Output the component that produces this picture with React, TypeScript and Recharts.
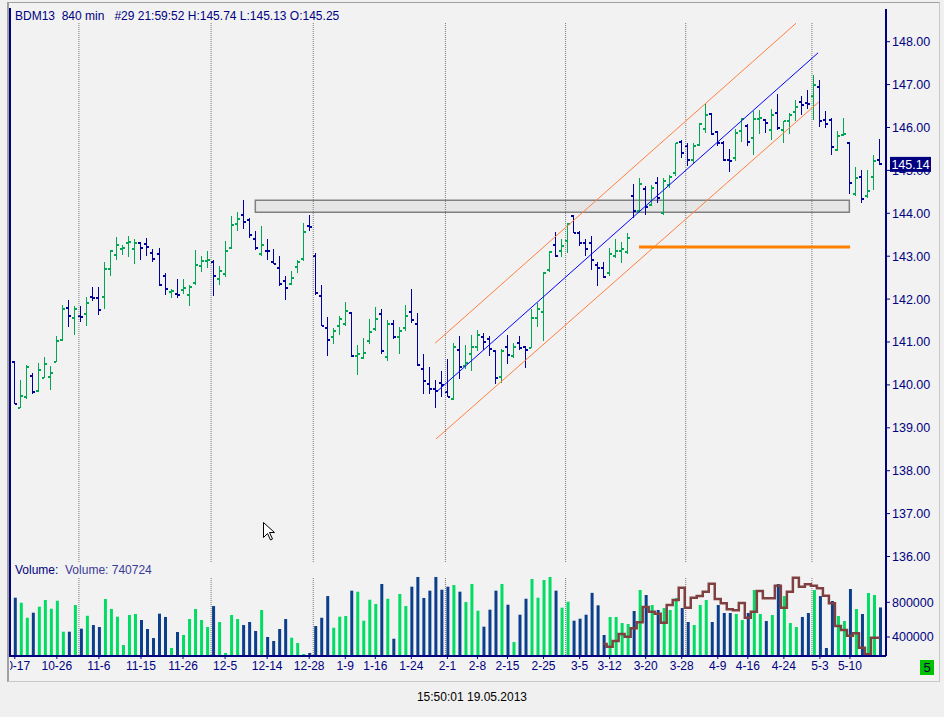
import React from 'react';
import { ComposedChart, Bar, Line, XAxis, YAxis, Cell, ReferenceLine, ReferenceArea } from 'recharts';

// BDM13 840 min bars, 17.10.2012 - 17.05.2013
const opens = [
  140.54, 139.47, 139.72, 140.21, 139.86, 140.17, 140.19, 140.53, 141.05, 141.80,
  141.55, 141.61, 141.66, 142.06, 142.03, 142.05, 142.69, 143.03, 143.17, 143.31,
  143.17, 143.31, 143.29, 143.08, 143.04, 142.55, 142.17, 142.13, 142.22, 142.10,
  142.38, 142.77, 142.88, 142.87, 142.46, 142.59, 143.19, 143.75, 143.97, 143.85,
  143.40, 143.05, 143.13, 142.87, 142.72, 142.43, 142.35, 142.75, 142.94, 143.71,
  143.01, 142.08, 141.33, 141.12, 141.38, 141.42, 141.68, 140.68, 140.63, 141.03,
  141.30, 141.66, 140.65, 141.41, 141.12, 141.32, 141.70, 141.43, 140.38, 140.02,
  139.90, 140.05, 139.84, 139.66, 140.82, 140.44, 140.71, 140.89, 141.11, 141.08,
  140.78, 140.19, 140.88, 140.68, 140.98, 140.89, 140.86, 141.56, 141.69, 142.67,
  143.27, 143.13, 143.35, 143.93, 143.53, 143.31, 143.31, 142.80, 142.73, 142.61,
  143.01, 143.12, 143.09, 144.40, 144.05, 144.57, 144.19, 144.71, 144.01, 144.65,
  144.94, 145.66, 145.58, 145.24, 145.60, 145.97, 146.32, 145.89, 145.64, 145.24,
  145.29, 145.91, 146.03, 145.75, 146.20, 146.17, 145.94, 146.34, 145.93, 146.14,
  146.35, 146.59, 146.57, 146.74, 146.94, 146.17, 146.18, 145.48, 145.82, 145.64,
  144.44, 144.85, 144.40, 144.85, 145.25,
];
const highs = [
  140.55, 140.12, 140.47, 140.28, 140.50, 140.64, 140.45, 141.15, 141.87, 141.99,
  141.85, 141.83, 142.04, 142.28, 142.28, 142.87, 143.15, 143.45, 143.25, 143.46,
  143.39, 143.33, 143.43, 143.17, 143.19, 142.61, 142.24, 142.46, 142.47, 142.34,
  143.14, 143.01, 143.12, 142.92, 142.78, 143.35, 143.93, 144.02, 144.32, 143.89,
  143.58, 143.70, 143.40, 143.17, 143.01, 142.55, 142.65, 142.90, 143.77, 143.97,
  143.08, 142.34, 141.59, 141.33, 141.60, 141.93, 141.71, 140.94, 141.10, 141.54,
  141.82, 141.77, 141.52, 141.51, 141.35, 141.87, 142.24, 141.68, 140.71, 140.42,
  140.11, 140.32, 140.61, 140.98, 141.14, 140.94, 141.17, 141.27, 141.21, 141.15,
  140.82, 140.84, 141.17, 140.98, 141.15, 140.90, 141.76, 141.90, 142.63, 143.12,
  143.56, 143.39, 143.78, 143.97, 143.58, 143.40, 143.46, 142.86, 142.86, 143.19,
  143.39, 143.32, 143.54, 144.69, 144.82, 144.63, 144.67, 144.85, 144.82, 144.90,
  145.64, 145.72, 145.64, 145.64, 146.10, 146.57, 146.34, 145.91, 145.68, 145.50,
  145.97, 146.22, 146.07, 146.38, 146.40, 146.20, 146.43, 146.77, 146.14, 146.34,
  146.63, 146.73, 146.88, 147.23, 147.10, 146.38, 146.22, 145.91, 146.22, 145.66,
  145.08, 145.00, 145.00, 145.37, 145.74,
];
const lows = [
  139.56, 139.47, 139.68, 139.78, 139.84, 140.15, 139.88, 140.53, 141.02, 141.35,
  141.17, 141.46, 141.38, 141.95, 141.64, 141.76, 142.55, 142.92, 143.03, 142.98,
  142.81, 142.90, 143.00, 142.87, 142.30, 142.10, 142.03, 142.03, 142.13, 141.83,
  142.32, 142.63, 142.73, 142.07, 142.32, 142.52, 143.17, 143.58, 143.64, 143.43,
  143.15, 143.00, 142.90, 142.81, 142.30, 141.97, 142.32, 142.60, 142.88, 143.58,
  142.10, 141.37, 140.68, 140.96, 141.17, 141.37, 140.65, 140.22, 140.61, 140.96,
  141.25, 140.71, 140.55, 141.06, 140.71, 141.25, 141.44, 140.44, 139.78, 139.78,
  139.46, 139.72, 139.72, 139.64, 140.13, 140.37, 140.32, 140.79, 140.81, 140.68,
  140.01, 140.05, 140.48, 140.63, 140.81, 140.40, 140.86, 141.35, 141.02, 142.63,
  142.98, 142.98, 143.08, 143.54, 143.23, 143.01, 142.67, 142.30, 142.49, 142.55,
  142.96, 142.84, 143.04, 143.89, 144.01, 143.97, 144.16, 144.24, 143.95, 144.59,
  144.88, 145.29, 145.11, 145.17, 145.58, 145.87, 145.83, 145.56, 145.21, 144.96,
  145.21, 145.66, 145.56, 145.37, 145.86, 145.87, 145.72, 145.93, 145.64, 145.86,
  146.14, 146.30, 146.42, 146.18, 146.01, 145.99, 145.37, 145.45, 145.81, 144.44,
  144.40, 144.24, 144.36, 144.54, 145.13,
];
const closes = [
  139.56, 139.74, 140.42, 139.84, 140.35, 140.49, 140.28, 141.03, 141.78, 141.61,
  141.78, 141.59, 141.91, 142.03, 141.75, 142.70, 143.13, 143.26, 143.19, 143.33,
  143.31, 143.19, 143.22, 142.94, 142.34, 142.24, 142.20, 142.10, 142.25, 142.28,
  142.80, 142.88, 142.90, 142.54, 142.66, 143.13, 143.73, 143.87, 143.80, 143.50,
  143.19, 143.25, 143.12, 142.81, 142.35, 142.26, 142.49, 142.87, 143.57, 143.68,
  142.14, 141.37, 141.05, 141.26, 141.54, 141.72, 140.68, 140.72, 140.75, 141.24,
  141.54, 140.78, 141.41, 141.12, 141.26, 141.60, 141.52, 140.46, 140.10, 139.90,
  139.86, 139.99, 139.72, 140.89, 140.42, 140.50, 140.88, 141.17, 140.99, 140.84,
  140.15, 140.79, 140.69, 140.89, 140.85, 140.82, 141.56, 141.76, 142.60, 143.09,
  143.01, 143.23, 143.76, 143.55, 143.31, 143.17, 142.92, 142.73, 142.52, 143.04,
  143.12, 143.16, 143.43, 144.05, 144.68, 144.15, 144.59, 144.36, 144.75, 144.85,
  145.64, 145.41, 145.25, 145.58, 146.07, 146.28, 145.86, 145.64, 145.24, 145.21,
  145.87, 146.20, 145.67, 146.20, 146.22, 146.11, 146.30, 145.99, 146.14, 146.28,
  146.48, 146.53, 146.55, 147.00, 146.14, 146.07, 145.55, 145.81, 145.84, 144.71,
  144.82, 144.33, 144.53, 145.21, 145.14,
];
const volumes = [
  853000, 795000, 622000, 680000, 749000, 826000, 726000, 818000, 461000, 461000,
  769000, 496000, 645000, 538000, 515000, 838000, 723000, 634000, 308000, 654000,
  665000, 596000, 492000, 388000, 669000, 631000, 273000, 458000, 423000, 607000,
  723000, 596000, 515000, 757000, 573000, 216000, 654000, 607000, 538000, 573000,
  469000, 711000, 400000, 354000, 492000, 607000, 392000, 331000, 204000, 216000,
  527000, 622000, 872000, 507000, 634000, 642000, 934000, 922000, 588000, 830000,
  780000, 1011000, 841000, 380000, 896000, 757000, 980000, 1092000, 850000, 934000,
  1092000, 945000, 980000, 999000, 922000, 803000, 1011000, 703000, 519000, 715000,
  934000, 1011000, 772000, 342000, 657000, 841000, 1069000, 853000, 1057000, 1092000,
  934000, 738000, 807000, 588000, 611000, 657000, 909000, 765000, 423000, 631000,
  631000, 561000, 550000, 700000, 942000, 884000, 769000, 711000, 734000, 711000,
  850000, 734000, 573000, 538000, 769000, 826000, 573000, 769000, 677000, 677000,
  665000, 596000, 677000, 942000, 665000, 584000, 654000, 1011000, 872000, 561000,
  515000, 631000, 677000, 942000, 872000, 273000, 815000, 642000, 584000, 953000,
  723000, 665000, 907000, 884000, 740724,
];
// brown step line, starts at bar 99
const oiStart = 98;
const openInterest = [
  319000, 288000, 354000, 434000, 403000, 500000, 569000, 746000, 692000, 669000,
  565000, 769000, 826000, 968000, 738000, 853000, 872000, 922000, 1014000, 838000,
  788000, 719000, 708000, 792000, 622000, 692000, 930000, 846000, 846000, 991000,
  738000, 922000, 1084000, 980000, 1007000, 991000, 961000, 876000, 788000, 527000,
  481000, 415000, 443000, 277000, 200000, 392000, 392000,
];

const tickBars = [0, 7, 14, 21, 28, 35, 42, 49, 55, 60, 66, 72, 77, 82, 88, 94, 99, 105, 111, 117, 122, 128, 134, 139];
const tickLabels = ['10-17', '10-26', '11-6', '11-15', '11-26', '12-5', '12-14', '12-28', '1-9', '1-16', '1-24', '2-1',
  '2-8', '2-15', '2-25', '3-5', '3-12', '3-20', '3-28', '4-9', '4-16', '4-24', '5-3', '5-10'];
const monthBars = [11, 33, 50, 72, 92, 112, 133];
const priceTicks = [136, 137, 138, 139, 140, 141, 142, 143, 144, 145, 146, 147, 148];
const volumeTicks = [400000, 800000];

// drawn objects, in bar index / price
const channel = { x1: 70.27, y1: 139.85, x2: 133.69, y2: 147.74 };
const channelTop = { x1: 69.94, y1: 140.97, x2: 130.03, y2: 148.43 };
const channelBottom = { x1: 70.11, y1: 138.74, x2: 133.86, y2: 146.6 };
const support = { x1: 103.89, x2: 139.02, y: 143.214 };
const zone = { x1: 40.03, x2: 138.9, y1: 144.023, y2: 144.303 };

const NAVY = '#000080';
const UP = '#00a651';
const DOWN = '#00009c';
const VOL_UP = '#00dc64';
const VOL_DOWN = '#0b3f8c';
const FONT = 'Arial, "Liberation Sans", sans-serif';

const xDomain: [number, number] = [-0.8, 145];
const priceDomain: [number, number] = [135.872, 148.762];
const volumeDomain: [number, number] = [181000, 1264500];

const bars = opens.map((o, i) => ({ i, o, h: highs[i], l: lows[i], c: closes[i] }));
const volData = volumes.map((v, i) => ({
  i,
  v,
  up: closes[i] >= opens[i],
  oi: i >= oiStart ? openInterest[i - oiStart] : null,
}));

// one OHLC bar: high-low line, open tick left, close tick right
const OhlcShape = (props: any) => {
  const { x, y, width, height, payload } = props;
  if (x == null || !payload) return null;
  const px = Math.floor(x + width / 2);
  const top = Math.min(y, y + height);
  const span = Math.abs(height);
  const { o, h, l, c } = payload;
  const range = h - l || 1;
  const yOf = (p: number) => Math.round(top + ((h - p) / range) * span);
  const color = c >= o ? UP : DOWN;
  const y0 = Math.round(top);
  const y1 = Math.max(Math.round(top + span), y0 + 1);
  return (
    <g shapeRendering="crispEdges">
      <rect x={px} y={y0} width={1} height={y1 - y0} fill={color} />
      <rect x={px - 2} y={yOf(o) - 1} width={2} height={2} fill={color} />
      <rect x={px + 1} y={yOf(c) - 1} width={2} height={2} fill={color} />
    </g>
  );
};

const PriceTag = ({ viewBox }: any) => {
  if (!viewBox) return null;
  const x = viewBox.x + viewBox.width + 4;
  return (
    <g>
      <rect x={x} y={viewBox.y - 7.5} width={41} height={15} fill={NAVY} />
      <text x={x + 20.5} y={viewBox.y + 4.5} textAnchor="middle" fill="#ffffff" fontSize={12.5} fontFamily={FONT}>
        {closes[closes.length - 1].toFixed(2)}
      </text>
    </g>
  );
};

const seg = (l: { x1: number; y1: number; x2: number; y2: number }) => [
  { x: l.x1, y: l.y1 },
  { x: l.x2, y: l.y2 },
];

const App: React.FC = () => {
  return (
    <div style={{ position: 'absolute', left: 0, top: 0, width: 944, height: 717, background: '#f0f0f0', fontFamily: FONT }}>
      {/* frame */}
      <div style={{ position: 'absolute', left: 7, top: 2, width: 930, height: 678, background: '#f2f2f2',
        borderTop: '1px solid #a0a0a0', borderLeft: '2px solid #a0a0a0', borderRight: '1px solid #c8c8c8', borderBottom: '1px solid #c8c8c8' }} />
      <div style={{ position: 'absolute', left: 9, top: 8, width: 1.5, height: 649, background: NAVY }} />

      <div style={{ position: 'absolute', left: 10, top: 0, width: 928, height: 681, overflow: 'hidden' }}>
        <div style={{ position: 'absolute', left: 0, top: 0 }}>
          <ComposedChart width={928} height={570} data={bars} margin={{ top: 9, right: 0, bottom: 8, left: 0 }}>
            <XAxis dataKey="i" type="number" domain={xDomain} allowDataOverflow hide />
            <YAxis orientation="right" type="number" domain={priceDomain} ticks={priceTicks} allowDataOverflow interval={0}
              width={52} tickFormatter={(v: number) => v.toFixed(2)} tickSize={4}
              axisLine={{ stroke: NAVY, strokeWidth: 2 }} tickLine={{ stroke: NAVY }}
              tick={{ fill: NAVY, fontSize: 12.5, fontFamily: FONT }} />
            {monthBars.map((b) => (
              <ReferenceLine key={b} segment={[{ x: b - 0.33, y: 148.436 }, { x: b - 0.33, y: priceDomain[0] }]}
                stroke="#777777" strokeDasharray="1 1" />
            ))}
            <ReferenceArea x1={zone.x1} x2={zone.x2} y1={zone.y1} y2={zone.y2}
              fill="#e6e6e6" fillOpacity={1} stroke="#808080" strokeWidth={1.5} />
            <Bar dataKey={(d: any) => [d.l, d.h]} barSize={6} shape={(p: any) => <OhlcShape {...p} />} isAnimationActive={false} />
            <ReferenceLine segment={seg(channelTop)} stroke="#ff7f3f" strokeWidth={1} />
            <ReferenceLine segment={seg(channelBottom)} stroke="#ff7f3f" strokeWidth={1} />
            <ReferenceLine segment={seg(channel)} stroke="#0000ff" strokeWidth={1} />
            <ReferenceLine segment={[{ x: support.x1, y: support.y }, { x: support.x2, y: support.y }]}
              stroke="#ff8000" strokeWidth={3} />
          </ComposedChart>
        </div>
        {/* last price tag, drawn above the axis labels */}
        <div style={{ position: 'absolute', left: 0, top: 0 }}>
          <ComposedChart width={928} height={570} data={bars} margin={{ top: 9, right: 52, bottom: 8, left: 0 }}>
            <XAxis dataKey="i" type="number" domain={xDomain} allowDataOverflow hide />
            <YAxis type="number" domain={priceDomain} allowDataOverflow hide />
            <ReferenceLine y={closes[closes.length - 1]} stroke="none" label={(p: any) => <PriceTag viewBox={p.viewBox} />} />
          </ComposedChart>
        </div>
        <div style={{ position: 'absolute', left: 0, top: 562 }}>
          <ComposedChart width={928} height={119} data={volData} margin={{ top: 0, right: 0, bottom: 0, left: 0 }}>
            <XAxis dataKey="i" type="number" domain={xDomain} allowDataOverflow ticks={tickBars} interval={0}
              tickFormatter={(v: number) => tickLabels[tickBars.indexOf(v)] ?? ''} height={25} tickSize={3}
              axisLine={{ stroke: NAVY, strokeWidth: 2 }} tickLine={{ stroke: NAVY }}
              tick={{ fill: NAVY, fontSize: 12, fontFamily: FONT }} />
            <YAxis orientation="right" type="number" domain={volumeDomain} ticks={volumeTicks} allowDataOverflow interval={0}
              width={52} tickFormatter={(v: number) => String(v)} tickSize={4}
              axisLine={{ stroke: NAVY, strokeWidth: 2 }} tickLine={{ stroke: NAVY }}
              tick={{ fill: NAVY, fontSize: 12.5, fontFamily: FONT }} />
            {monthBars.map((b) => (
              <ReferenceLine key={b} segment={[{ x: b - 0.33, y: 1080000 }, { x: b - 0.33, y: volumeDomain[0] }]}
                stroke="#777777" strokeDasharray="1 1" />
            ))}
            <Bar dataKey="v" barSize={3} isAnimationActive={false}>
              {volData.map((d) => (
                <Cell key={d.i} fill={d.up ? VOL_UP : VOL_DOWN} />
              ))}
            </Bar>
            <Line dataKey="oi" type="step" stroke="#804040" strokeWidth={2.5} dot={false} activeDot={false}
              connectNulls={false} isAnimationActive={false} />
          </ComposedChart>
        </div>
      </div>

      <div style={{ position: 'absolute', left: 15, top: 9, fontSize: 12, lineHeight: '14px', color: NAVY, whiteSpace: 'pre' }}>
        {'BDM13  840 min   #29 21:59:52 H:145.74 L:145.13 O:145.25'}
      </div>
      <div style={{ position: 'absolute', left: 15, top: 563, fontSize: 12, lineHeight: '14px', whiteSpace: 'pre' }}>
        <span style={{ color: NAVY }}>{'Volume:  '}</span>
        <span style={{ color: '#3a3a96' }}>{'Volume: 740724'}</span>
      </div>
      <div style={{ position: 'absolute', left: 920, top: 660, width: 14, height: 15, background: '#00c000',
        color: '#000050', fontSize: 13, lineHeight: '15px', textAlign: 'center' }}>5</div>
      <div style={{ position: 'absolute', left: 0, width: 944, top: 690, fontSize: 12, lineHeight: '14px', textAlign: 'center', color: '#000000' }}>
        15:50:01 19.05.2013
      </div>
      <svg style={{ position: 'absolute', left: 263, top: 522 }} width={14} height={20}>
        <polygon points="0.5,0.5 0.5,15.5 4.5,11.5 7.5,18 9.5,17 6.5,10.5 11.5,10.5" fill="#ffffff" stroke="#000000" strokeWidth={1} />
      </svg>
    </div>
  );
};

export default App;
